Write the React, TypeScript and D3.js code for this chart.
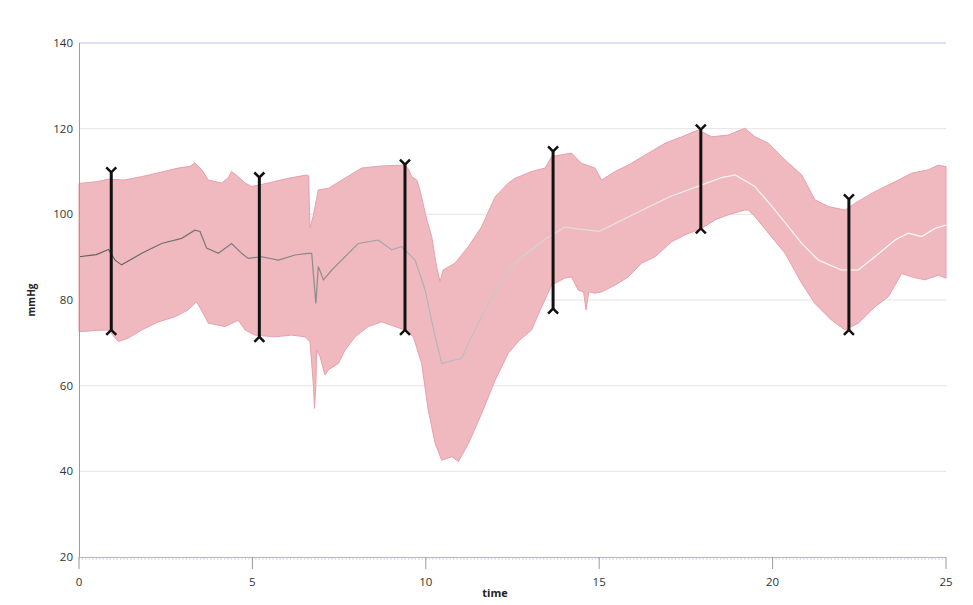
import { useEffect, useRef } from "react"
import * as d3 from "d3"

// upper edge of the band (time, mmHg)
const upperT = [0, 0.5, 0.85, 1.3, 1.81, 2.29, 2.86, 3.2, 3.34, 3.54, 3.73, 4.11, 4.3, 4.4, 4.59, 4.79, 4.98, 5.45, 6.03, 6.57, 6.62, 6.66, 6.75, 6.9, 7.2, 7.5, 8.15, 8.73, 9.4, 9.5, 9.59, 9.74, 9.83, 10.03, 10.17, 10.31, 10.41, 10.5, 10.84, 11.23, 11.61, 12.0, 12.38, 12.57, 13.05, 13.44, 13.63, 14.2, 14.49, 14.88, 15.07, 15.46, 15.84, 16.42, 16.9, 17.38, 17.86, 18.24, 18.72, 19.2, 19.49, 19.88, 20.36, 20.84, 21.22, 21.61, 22.09, 22.38, 22.95, 23.53, 24.01, 24.49, 24.78, 25]
const upperV = [107.2, 107.6, 108.2, 108.0, 108.8, 109.7, 110.8, 111.2, 112.0, 110.4, 108.0, 107.3, 108.5, 110.0, 108.8, 107.3, 106.5, 107.3, 108.4, 109.2, 109.0, 96.8, 99.5, 105.7, 106.1, 107.6, 110.8, 111.3, 111.5, 110.5, 108.8, 108.0, 105.7, 98.7, 94.8, 87.8, 84.3, 87.0, 88.6, 92.5, 97.1, 104.1, 107.3, 108.4, 110.0, 110.8, 113.5, 114.3, 111.9, 110.8, 108.0, 110.0, 111.5, 114.3, 116.6, 118.1, 119.7, 118.1, 118.5, 120.1, 118.1, 116.6, 112.7, 109.2, 103.4, 101.8, 101.0, 102.6, 105.3, 107.6, 109.6, 110.4, 111.5, 111.1]

// lower edge of the band
const lowerT = [0, 0.5, 0.85, 1.13, 1.42, 1.81, 2.29, 2.77, 3.15, 3.39, 3.58, 3.73, 4.21, 4.59, 4.79, 5.07, 5.65, 6.13, 6.52, 6.66, 6.76, 6.79, 6.83, 6.85, 6.95, 7.09, 7.19, 7.48, 7.67, 7.96, 8.34, 8.73, 9.11, 9.4, 9.64, 9.88, 10.07, 10.27, 10.46, 10.75, 10.94, 11.23, 11.61, 12.0, 12.38, 12.7, 13.05, 13.3, 13.63, 14.0, 14.2, 14.4, 14.55, 14.62, 14.7, 14.88, 15.07, 15.46, 15.84, 16.22, 16.61, 17.09, 17.47, 17.95, 18.34, 18.72, 19.2, 19.3, 19.49, 19.88, 20.36, 20.84, 21.22, 21.7, 22.09, 22.47, 22.95, 23.34, 23.72, 24.01, 24.39, 24.78, 25]
const lowerV = [72.6, 72.9, 73.0, 70.3, 71.1, 73.0, 74.9, 76.1, 77.7, 79.6, 76.9, 74.6, 73.8, 75.3, 73.0, 71.8, 71.4, 71.8, 71.4, 70.3, 60.0, 54.7, 60.0, 68.3, 66.8, 62.5, 63.7, 65.2, 68.3, 71.4, 73.8, 74.9, 73.8, 73.0, 71.4, 65.2, 54.3, 46.5, 42.6, 43.4, 42.3, 46.5, 53.5, 61.3, 67.6, 70.6, 73.0, 77.7, 83.5, 85.1, 85.4, 82.3, 81.9, 77.7, 81.9, 81.6, 81.9, 83.5, 85.4, 88.6, 90.1, 93.6, 95.2, 96.7, 98.7, 99.9, 101.0, 101.0, 99.5, 95.6, 90.9, 83.9, 79.2, 75.3, 73.0, 74.6, 78.4, 80.8, 86.2, 85.4, 84.7, 85.8, 85.1]

// mean line
const meanT = [0, 0.5, 0.85, 1.04, 1.23, 1.81, 2.38, 2.96, 3.34, 3.49, 3.68, 4.02, 4.4, 4.69, 4.88, 5.27, 5.75, 6.23, 6.6, 6.71, 6.83, 6.9, 7.05, 7.29, 7.67, 8.05, 8.63, 9.02, 9.3, 9.69, 9.98, 10.27, 10.46, 10.84, 11.03, 11.32, 11.71, 12.09, 12.57, 13.0, 13.5, 14.0, 14.5, 15.0, 15.5, 16.0, 16.5, 17.0, 17.5, 18.0, 18.5, 18.92, 19.49, 20.07, 20.84, 21.32, 21.99, 22.47, 22.95, 23.53, 23.91, 24.3, 24.68, 25]
const meanV = [90.1, 90.6, 91.8, 89.3, 88.2, 90.9, 93.2, 94.4, 96.3, 96.0, 92.1, 90.9, 93.2, 90.9, 89.7, 90.1, 89.3, 90.5, 90.9, 90.9, 79.2, 87.8, 84.7, 87.0, 90.1, 93.2, 94.0, 91.7, 92.5, 89.3, 82.3, 71.4, 65.2, 66.0, 66.4, 71.4, 77.7, 83.1, 88.6, 91.5, 94.5, 97.0, 96.5, 96.0, 98.0, 100.0, 102.0, 104.0, 105.5, 107.0, 108.5, 109.2, 106.5, 101.0, 93.2, 89.3, 87.0, 87.0, 90.1, 94.0, 95.6, 94.8, 96.7, 97.5]

// error bars
const barT = [0.93, 5.2, 9.4, 13.67, 17.93, 22.2]
const barHigh = [109.8, 108.6, 111.6, 114.7, 119.8, 103.5]
const barLow = [73.0, 71.4, 73.0, 78.0, 96.7, 73.0]

const xTicks = [0, 5, 10, 15, 20, 25]
const yTicks = [20, 40, 60, 80, 100, 120, 140]

const W = 973
const H = 605
const font = "'Open Sans', 'DejaVu Sans', sans-serif"

type Pt = { t: number; v: number }

export default function App() {
  const svgRef = useRef<SVGSVGElement>(null)

  useEffect(() => {
    const svg = d3.select(svgRef.current)
    svg.selectAll("*").remove()

    const x = d3.scaleLinear().domain([0, 25]).range([79, 946])
    const y = d3.scaleLinear().domain([20, 140]).range([557, 43])

    const upper: Pt[] = upperT.map((t, i) => ({ t, v: upperV[i] }))
    const lower: Pt[] = lowerT.map((t, i) => ({ t, v: lowerV[i] }))
    const mean: Pt[] = meanT.map((t, i) => ({ t, v: meanV[i] }))

    const line = d3
      .line<Pt>()
      .x((d) => x(d.t))
      .y((d) => y(d.v))

    // gradient for the mean line (dark grey -> white)
    const defs = svg.append("defs")
    const grad = defs
      .append("linearGradient")
      .attr("id", "meanGrad")
      .attr("gradientUnits", "userSpaceOnUse")
      .attr("x1", x(0))
      .attr("x2", x(25))
      .attr("y1", 0)
      .attr("y2", 0)
    const stops: [number, string][] = [
      [0, "#5e5e5e"],
      [0.28, "#8c8c8c"],
      [0.42, "#b8b8b8"],
      [0.55, "#dadada"],
      [0.75, "#f4f4f4"],
      [1, "#ffffff"],
    ]
    stops.forEach(([o, c]) => grad.append("stop").attr("offset", o).attr("stop-color", c))

    // grid lines
    svg
      .append("g")
      .selectAll("line")
      .data(yTicks.filter((d) => d > 20 && d < 140))
      .enter()
      .append("line")
      .attr("x1", x(0))
      .attr("x2", x(25))
      .attr("y1", (d) => y(d))
      .attr("y2", (d) => y(d))
      .attr("stroke", "#e4e4e4")
      .attr("stroke-width", 1)

    // top border
    svg
      .append("line")
      .attr("x1", x(0))
      .attr("x2", x(25))
      .attr("y1", y(140))
      .attr("y2", y(140))
      .attr("stroke", "#b4c1e6")

    // band
    const bandPath = (line([...upper, ...lower.slice().reverse()]) ?? "") + "Z"
    svg
      .append("path")
      .attr("d", bandPath)
      .attr("fill", "#f0b9bf")
      .attr("stroke", "#e8a0aa")
      .attr("stroke-width", 1)
      .attr("stroke-linejoin", "round")

    // mean line
    svg
      .append("path")
      .datum(mean)
      .attr("d", line)
      .attr("fill", "none")
      .attr("stroke", "url(#meanGrad)")
      .attr("stroke-width", 1.2)

    // x axis
    const minor = d3.range(0, 250).map((d) => d / 10)
    svg
      .append("g")
      .selectAll("line")
      .data(minor)
      .enter()
      .append("line")
      .attr("x1", (d) => x(d))
      .attr("x2", (d) => x(d))
      .attr("y1", y(20))
      .attr("y2", y(20) + 3)
      .attr("stroke", "#dcdcdc")

    svg
      .append("line")
      .attr("x1", x(0))
      .attr("x2", x(25))
      .attr("y1", y(20) + 0.5)
      .attr("y2", y(20) + 0.5)
      .attr("stroke", "#aeb7cf")

    const xt = svg.append("g").selectAll("g").data(xTicks).enter().append("g")
    xt.append("line")
      .attr("x1", (d) => x(d))
      .attr("x2", (d) => x(d))
      .attr("y1", y(20))
      .attr("y2", y(20) + 12)
      .attr("stroke", "#9a9a9a")
    xt.append("text")
      .attr("x", (d) => x(d))
      .attr("y", 586)
      .attr("text-anchor", "middle")
      .attr("font-family", font)
      .attr("font-size", 11.5)
      .attr("fill", "#333")
      .text((d) => d)

    // y axis
    svg
      .append("line")
      .attr("x1", x(0) + 0.5)
      .attr("x2", x(0) + 0.5)
      .attr("y1", y(140))
      .attr("y2", y(20))
      .attr("stroke", "#7f9ce6")

    svg
      .append("g")
      .selectAll("text")
      .data(yTicks)
      .enter()
      .append("text")
      .attr("x", 73)
      .attr("y", (d) => y(d))
      .attr("dy", "0.35em")
      .attr("text-anchor", "end")
      .attr("font-family", font)
      .attr("font-size", 11.5)
      .attr("fill", "#333")
      .text((d) => d)

    // axis titles
    svg
      .append("text")
      .attr("x", 495)
      .attr("y", 597)
      .attr("text-anchor", "middle")
      .attr("font-family", font)
      .attr("font-size", 11)
      .attr("font-weight", "bold")
      .attr("fill", "#222")
      .text("time")

    svg
      .append("text")
      .attr("transform", `translate(35,${y(80)}) rotate(-90)`)
      .attr("text-anchor", "middle")
      .attr("font-family", font)
      .attr("font-size", 10)
      .attr("font-weight", "bold")
      .attr("fill", "#222")
      .text("mmHg")

    // error bars
    const bars = svg
      .append("g")
      .selectAll("g")
      .data(barT.map((t, i) => ({ t, hi: barHigh[i], lo: barLow[i] })))
      .enter()
      .append("g")
      .attr("stroke", "#111")
      .attr("fill", "none")
    bars
      .append("line")
      .attr("x1", (d) => x(d.t))
      .attr("x2", (d) => x(d.t))
      .attr("y1", (d) => y(d.hi))
      .attr("y2", (d) => y(d.lo))
      .attr("stroke-width", 3)
    bars
      .append("path")
      .attr("d", (d) => `M${x(d.t) - 5},${y(d.hi) - 5}L${x(d.t)},${y(d.hi)}L${x(d.t) + 5},${y(d.hi) - 5}`)
      .attr("stroke-width", 2.5)
    bars
      .append("path")
      .attr("d", (d) => `M${x(d.t) - 5},${y(d.lo) + 5}L${x(d.t)},${y(d.lo)}L${x(d.t) + 5},${y(d.lo) + 5}`)
      .attr("stroke-width", 2.5)
  }, [])

  return (
    <svg
      ref={svgRef}
      width={W}
      height={H}
      style={{ position: "absolute", left: 0, top: 0, background: "#fff" }}
    />
  )
}
